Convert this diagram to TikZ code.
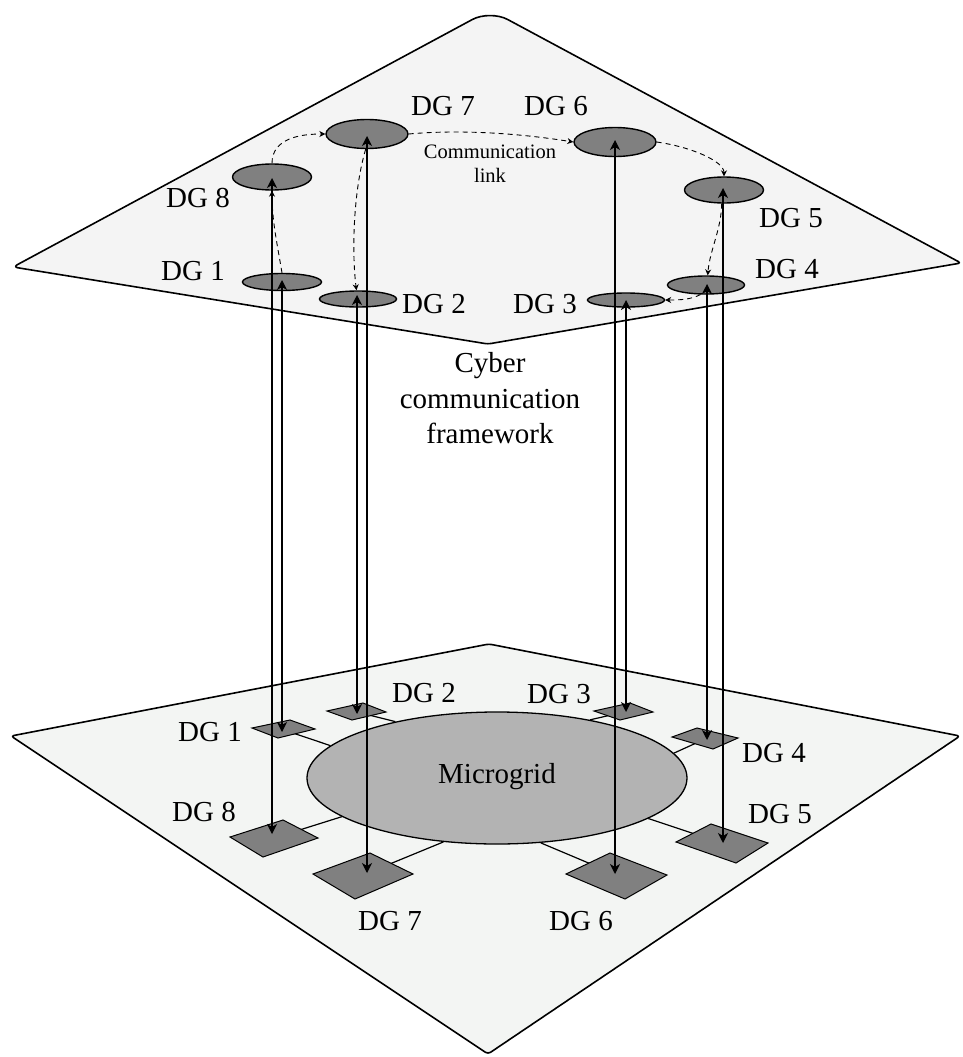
\documentclass[tikz,border=0pt]{standalone}
\usepackage{fontspec}
\setmainfont{Liberation Serif}
\usetikzlibrary{shapes.geometric,arrows.meta}

\definecolor{planetop}{HTML}{F4F4F4}
\definecolor{planebot}{HTML}{F3F5F3}
\definecolor{dgdark}{HTML}{808080}
\definecolor{mgfill}{HTML}{B3B3B3}

\pgfdeclarelayer{planes}
\pgfdeclarelayer{feeders}
\pgfsetlayers{planes,feeders,main}

\tikzset{
  planebox/.style={draw=black, line width=1.6pt, line join=round},
  cyberdg/.style={ellipse, draw=black, line width=1.4pt, fill=dgdark, inner sep=0pt},
  dgpad/.style={draw=black, line width=1pt, fill=dgdark, line join=miter},
  feeder/.style={draw=black, line width=1.2pt},
  uplink/.style={{Stealth[length=10pt,width=10pt,inset=3pt]}-{Stealth[length=10pt,width=10pt,inset=3pt]}, line width=1.3pt},
  comm/.style={-{Stealth[length=6pt,width=6pt]}, dash pattern=on 5pt off 4pt, line width=0.9pt},
  lbl/.style={font=\fontsize{29}{35}\selectfont, anchor=base, inner sep=0pt},
  smalllbl/.style={font=\fontsize{20.5}{24}\selectfont, anchor=base, inner sep=0pt}
}

\begin{document}
\begin{tikzpicture}[x=1pt, y=-1pt]
\useasboundingbox (0,0) rectangle (962,1057);

\begin{pgfonlayer}{planes}
% cyber layer plane
\filldraw[planebox, fill=planetop] (488,344) [rounded corners=5pt] -- (13,267)
  [rounded corners=20pt] -- (490,10) [rounded corners=3pt] -- (961,263) -- cycle;
% physical layer plane
\filldraw[planebox, fill=planebot, rounded corners=3pt]
  (489,644) -- (11,736) -- (488,1054) -- (960,736) -- cycle;
\end{pgfonlayer}

% microgrid
\node[ellipse, draw=black, line width=1.3pt, fill=mgfill, inner sep=0pt,
      minimum width=380pt, minimum height=132pt] (mg) at (497,778) {};
\node[lbl] (mgtext) at (497,783) {Microgrid};

% DG pad centres
\coordinate (g1) at (284,730);
\coordinate (g2) at (357,712);
\coordinate (g3) at (624,712);
\coordinate (g4) at (705,739);
\coordinate (g5) at (722,843);
\coordinate (g6) at (617,875);
\coordinate (g7) at (363,875);
\coordinate (g8) at (274,838);

% feeders from the DG pads to the microgrid
\begin{pgfonlayer}{feeders}
\draw[feeder] (g1) -- (mg.169);
\draw[feeder] (g2) -- (mg.151);
\draw[feeder] (g3) -- (mg.32);
\draw[feeder] (g4) -- (mg.8);
\draw[feeder] (g5) -- (mg.-15);
\draw[feeder] (g6) -- (mg.-56);
\draw[feeder] (g7) -- (mg.230);
\draw[feeder] (g8) -- (mg.194);
\end{pgfonlayer}

% DG pads in perspective
\draw[dgpad] (252,728) -- (290,720) -- (315,729) -- (278,738) -- cycle;
\draw[dgpad] (327,711) -- (363,703) -- (386,712) -- (352,720) -- cycle;
\draw[dgpad] (594,711) -- (630,703) -- (653,712) -- (620,720) -- cycle;
\draw[dgpad] (672,737) -- (697,728) -- (738,738) -- (713,749) -- cycle;
\draw[dgpad] (676,842) -- (711,824) -- (768,843) -- (736,863) -- cycle;
\draw[dgpad] (566,874) -- (610,853) -- (667,875) -- (625,899) -- cycle;
\draw[dgpad] (313,874) -- (370,853) -- (413,874) -- (355,899) -- cycle;
\draw[dgpad] (230,837) -- (283,820) -- (318,838) -- (263,857) -- cycle;

% cyber agents
\node[cyberdg, minimum width=79pt, minimum height=17pt] (c1) at (282,282) {};
\node[cyberdg, minimum width=77pt, minimum height=16pt] (c2) at (358,299) {};
\node[cyberdg, minimum width=77pt, minimum height=14pt] (c3) at (626,300) {};
\node[cyberdg, minimum width=77pt, minimum height=18pt] (c4) at (706,285) {};
\node[cyberdg, minimum width=79pt, minimum height=26pt] (c5) at (724,190) {};
\node[cyberdg, minimum width=82pt, minimum height=29pt] (c6) at (615,142) {};
\node[cyberdg, minimum width=82pt, minimum height=29pt] (c7) at (367,134) {};
\node[cyberdg, minimum width=79pt, minimum height=26pt] (c8) at (272,177) {};

% communication links
\draw[comm] (c1.north) .. controls +(-5,-30) and +(0,30) .. (c8.south);
\draw[comm] (c8.north) .. controls +(0,-25) and +(-25,0) .. (c7.west);
\draw[comm] (c7.east) .. controls +(55,-5) and +(-50,-8) .. (c6.west);
\draw[comm] (c6.east) .. controls +(35,5) and +(0,-15) .. (c5.north);
\draw[comm] (c5.260) .. controls +(0,25) and +(2,-25) .. (c4.80);
\draw[comm] (c4.240) .. controls +(-10,5) and +(15,0) .. (c3.east);
\draw[comm] (c7.265) .. controls +(-12,40) and +(-5,-40) .. (c2.100);

\node[smalllbl] (commA) at (490,158) {Communication};
\node[smalllbl] (commB) at (490,182) {link};

% vertical exchange between layers
\coordinate (t1) at (282,280); \coordinate (b1) at (282,732);
\coordinate (t2) at (357,295); \coordinate (b2) at (357,714);
\coordinate (t3) at (626,300); \coordinate (b3) at (626,712);
\coordinate (t4) at (707,284); \coordinate (b4) at (707,740);
\coordinate (t5) at (723,188); \coordinate (b5) at (723,843);
\coordinate (t6) at (615,140); \coordinate (b6) at (615,874);
\coordinate (t7) at (367,136); \coordinate (b7) at (367,873);
\coordinate (t8) at (272,178); \coordinate (b8) at (272,834);
\foreach \i in {1,...,8} { \draw[uplink] (t\i) -- (b\i); }

% labels, cyber layer
\node[lbl] (l8) at (198,207) {DG 8};
\node[lbl] (l7) at (443,115) {DG 7};
\node[lbl] (l6) at (556,115) {DG 6};
\node[lbl] (l1) at (193,280) {DG 1};
\node[lbl] (l2) at (434,313) {DG 2};
\node[lbl] (l3) at (545,313) {DG 3};
\node[lbl] (l5) at (791,227) {DG 5};
\node[lbl] (l4) at (787,278) {DG 4};

\node[lbl] (cy1) at (490,372) {Cyber};
\node[lbl] (cy2) at (490,408) {communication};
\node[lbl] (cy3) at (490,443) {framework};

% labels, physical layer
\node[lbl] (p1) at (210,741) {DG 1};
\node[lbl] (p2) at (424,702) {DG 2};
\node[lbl] (p3) at (559,703) {DG 3};
\node[lbl] (p4) at (774,762) {DG 4};
\node[lbl] (p5) at (780,823) {DG 5};
\node[lbl] (p6) at (581,930) {DG 6};
\node[lbl] (p7) at (390,930) {DG 7};
\node[lbl] (p8) at (204,821) {DG 8};
\end{tikzpicture}
\end{document}
